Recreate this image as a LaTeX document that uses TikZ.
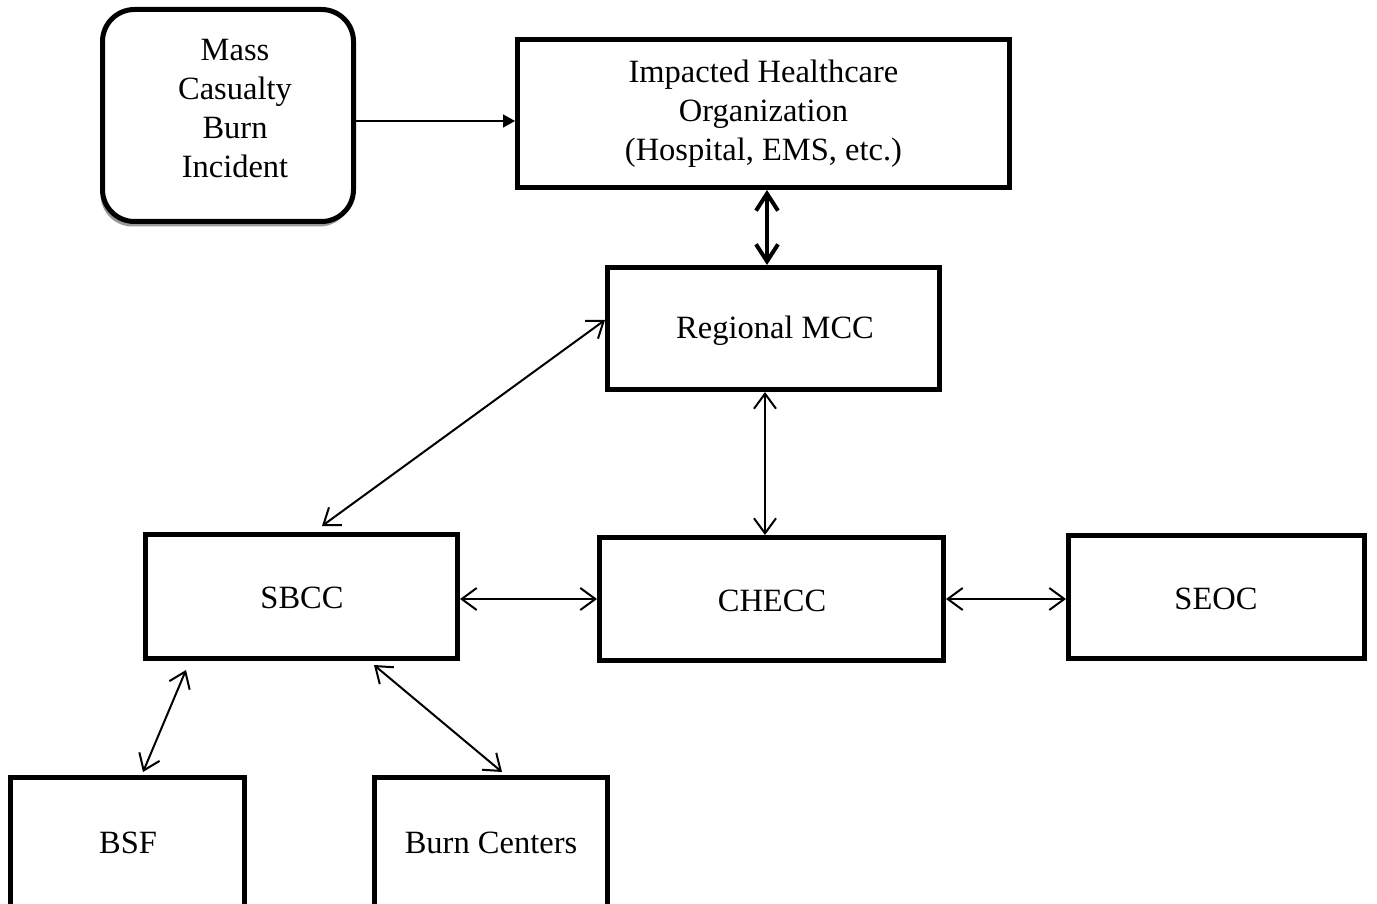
\documentclass[tikz,border=0pt]{standalone}
\usepackage{fontspec}
\setmainfont{Liberation Serif}
\usetikzlibrary{arrows.meta,shadows}
\begin{document}
\begin{tikzpicture}[x=1pt,y=-1pt,
  txt/.style={font=\fontsize{32.5}{39}\selectfont, align=center, inner sep=0pt},
  box/.style={draw, line width=5pt, rectangle, inner sep=0pt, txt},
  rbox/.style={box, rounded corners=32pt, fill=white,
    drop shadow={shadow xshift=-2pt, shadow yshift=-5pt, fill=black!40, opacity=1}},
  link/.style={line width=2pt, {Straight Barb[length=15pt,width=22pt]}-{Straight Barb[length=15pt,width=22pt]}},
  thick link/.style={line width=4pt, {Straight Barb[length=17pt,width=22pt]}-{Straight Barb[length=17pt,width=22pt]}},
  feed/.style={line width=1.6pt, -{Triangle[length=12pt,width=13pt]}}]
\useasboundingbox (0,0) rectangle (1377,904);
\node[rbox, minimum width=251pt, minimum height=212pt] (mci) at (228,115.5) {};
\node[txt] (mcit) at (235,109) {Mass\\Casualty\\Burn\\Incident};
\node[box, minimum width=492pt, minimum height=148pt] (iho) at (763.5,113.5)
  {Impacted Healthcare\\Organization\\(Hospital, EMS, etc.)};
\node[box, minimum width=332pt, minimum height=122pt] (mcc) at (773.5,328.5) {};
\node[txt] (mcct) at (775,331) {Regional MCC};
\node[box, minimum width=312pt, minimum height=124pt] (sbcc) at (301.5,596.5) {};
\node[txt] (sbcct) at (302,598) {SBCC};
\node[box, minimum width=344pt, minimum height=123pt] (checc) at (771.5,599) {};
\node[txt] (checct) at (772,601) {CHECC};
\node[box, minimum width=296pt, minimum height=123pt] (seoc) at (1216.5,597) {};
\node[txt] (seoct) at (1216,599) {SEOC};
\node[box, minimum width=234pt, minimum height=160pt] (bsf) at (127.5,857.5) {};
\node[box, minimum width=233pt, minimum height=160pt] (burn) at (491,857.5) {};
\node[txt] (bsft) at (128,843) {BSF};
\node[txt] (burnt) at (491,843) {Burn Centers};
\draw[feed] (mci.east |- 0,121) -- (iho.west |- 0,121);
\draw[thick link] (iho.south -| 767,0) -- (mcc.north -| 767,0);
\draw[link] (mcc.west |- 0,320) -- (322,526);
\draw[link] (mcc.south -| 765,0) -- (checc.north -| 765,0);
\draw[link] (sbcc.east |- 0,599) -- (checc.west |- 0,599);
\draw[link] (checc.east |- 0,599) -- (seoc.west |- 0,599);
\draw[link] (186,670) -- (143,772);
\draw[link] (374,665) -- (502,772);
\end{tikzpicture}
\end{document}
